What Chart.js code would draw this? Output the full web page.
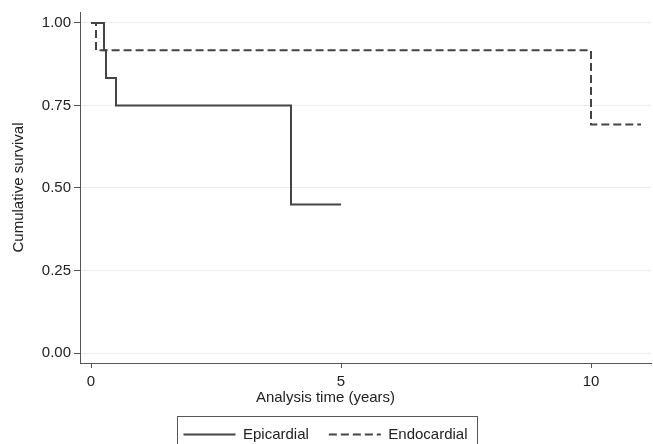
<!DOCTYPE html>
<html>
<head>
<meta charset="utf-8">
<script src="https://cdn.jsdelivr.net/npm/chart.js@4.4.1/dist/chart.umd.min.js"></script>
<style>
   html, body { margin: 0; padding: 0; background: #fff; }
   #wrap { width: 653px; height: 444px; }
</style>
</head>
<body>
<div id="wrap"><canvas id="km" width="653" height="444"></canvas></div>
<script>
// Kaplan-Meier steps (time in years, survival)
const epiTimes = [0, 0.26, 0.3, 0.5, 4.0, 5.0];
const epiSurv = [1.0, 0.917, 0.833, 0.75, 0.45, 0.45];
const endoTimes = [0, 0.1, 10.0, 11.0];
const endoSurv = [1.0, 0.917, 0.692, 0.692];
const xTicks = [0, 5, 10];
const yTicks = [0, 0.25, 0.5, 0.75, 1.0];

const toPoints = (xs, ys) => xs.map((x, i) => ({ x: x, y: ys[i] }));

const lineColor = '#444444';
const font = { family: 'Liberation Sans, Arial, sans-serif', size: 15 };

// рамка вокруг легенды
const legendBorder = {
   id: 'legendBorder',
   afterDraw(chart) {
      const boxes = chart.legend && chart.legend.legendHitBoxes;
      if (!boxes || !boxes.length) return;
      const left = Math.min(...boxes.map(b => b.left)) - 6;
      const right = Math.max(...boxes.map(b => b.left + b.width)) + 10;
      const top = Math.min(...boxes.map(b => b.top)) - 11;
      const bottom = Math.max(...boxes.map(b => b.top + b.height)) + 14;
      const ctx = chart.ctx;
      ctx.save();
      ctx.strokeStyle = '#555';
      ctx.lineWidth = 1;
      ctx.setLineDash([]);
      ctx.strokeRect(Math.round(left) + 0.5, Math.round(top) + 0.5, Math.round(right - left), Math.round(bottom - top));
      ctx.restore();
   }
};

new Chart(document.getElementById('km'), {
   type: 'line',
   data: {
      datasets: [
         {
            label: 'Epicardial',
            data: toPoints(epiTimes, epiSurv),
            stepped: 'before',
            borderColor: lineColor,
            backgroundColor: 'transparent',
            borderWidth: 2,
            pointRadius: 0,
            pointStyle: 'line',
            fill: false
         },
         {
            label: 'Endocardial',
            data: toPoints(endoTimes, endoSurv),
            stepped: 'before',
            borderColor: lineColor,
            backgroundColor: 'transparent',
            borderWidth: 2,
            borderDash: [8, 4],
            pointRadius: 0,
            pointStyle: 'line',
            fill: false
         }
      ]
   },
   options: {
      responsive: false,
      animation: false,
      layout: { padding: { top: 10, right: 2, left: 0, bottom: -8 } },
      scales: {
         x: {
            type: 'linear',
            min: -0.22,
            max: 11.2,
            afterBuildTicks: (scale) => { scale.ticks = xTicks.map(v => ({ value: v })); },
            afterFit: (scale) => { scale.height = 26; },
            border: { display: true, color: '#555', width: 1 },
            grid: { drawOnChartArea: false, tickLength: 5, tickColor: '#555' },
            ticks: { color: '#222', font: font, padding: 5, maxRotation: 0 }
         },
         y: {
            type: 'linear',
            min: -0.03,
            max: 1.033,
            afterBuildTicks: (scale) => { scale.ticks = yTicks.map(v => ({ value: v })); },
            afterFit: (scale) => { scale.width = 80; },
            border: { display: true, color: '#555', width: 1 },
            grid: { color: '#ececec', tickLength: 6, tickColor: '#555' },
            ticks: { color: '#222', font: font, padding: 3, callback: (v) => v.toFixed(2) },
            title: { display: true, text: 'Cumulative survival', color: '#222', font: font, padding: { top: 10, bottom: 0 } }
         }
      },
      plugins: {
         // подпись оси X по центру всего рисунка, как в оригинале
         title: {
            display: true,
            position: 'bottom',
            weight: 500,
            text: 'Analysis time (years)',
            color: '#222',
            font: { family: font.family, size: 15, weight: 'normal' },
            padding: 0
         },
         legend: {
            position: 'bottom',
            labels: {
               usePointStyle: true,
               pointStyleWidth: 52,
               color: '#222',
               font: font,
               padding: 20,
               generateLabels: (chart) => {
                  const items = Chart.defaults.plugins.legend.labels.generateLabels(chart);
                  return items.map((item) => {
                     const ds = chart.data.datasets[item.datasetIndex];
                     item.lineDash = ds.borderDash || [];
                     item.lineWidth = 2;
                     item.strokeStyle = ds.borderColor;
                     return item;
                  });
               }
            }
         },
         tooltip: { enabled: false }
      }
   },
   plugins: [legendBorder]
});
</script>
</body>
</html>
